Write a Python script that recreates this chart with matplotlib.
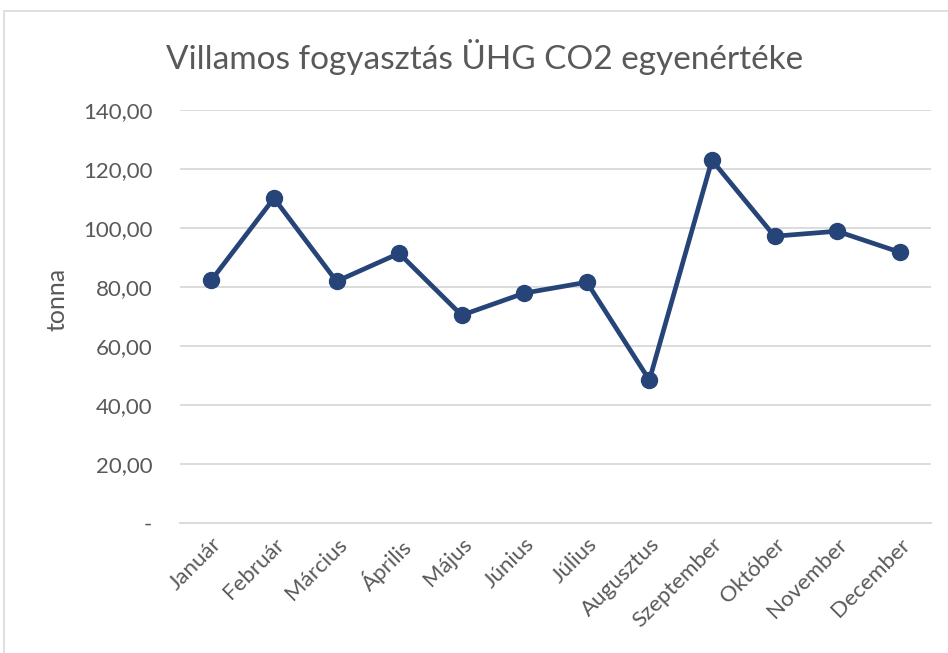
import matplotlib.pyplot as plt
from matplotlib.patches import Rectangle

plt.rcParams['font.family'] = ['Lato', 'DejaVu Sans']

months = ['Január', 'Február', 'Március', 'Április', 'Május', 'Június',
          'Július', 'Augusztus', 'Szeptember', 'Október', 'November', 'December']
values = [82.4, 110.2, 82.0, 91.5, 70.5, 78.0, 81.7, 48.5, 123.1, 97.3, 99.0, 91.9]
yticks = [0, 20, 40, 60, 80, 100, 120, 140]
ytick_labels = ['-' if v == 0 else f'{v:.2f}'.replace('.', ',') for v in yticks]

text_color = '#595959'
line_color = '#264478'
grid_color = '#d9d9d9'

fig = plt.figure(figsize=(9.48, 6.53), dpi=100)
ax = fig.add_axes([0.190, 0.199, 0.792, 0.632])

x = range(len(months))
ax.plot(x, values, color=line_color, linewidth=3.4, marker='o',
        markersize=11.5, solid_capstyle='round', solid_joinstyle='round')

ax.set_xlim(-0.5, len(months) - 0.5)
ax.set_ylim(0, 140)
ax.set_yticks(yticks)
ax.set_yticklabels(ytick_labels)
ax.set_xticks(list(x))
ax.set_xticklabels(months, rotation=45, ha='right', rotation_mode='anchor')

ax.grid(axis='y', color=grid_color, linewidth=1.3)
ax.set_axisbelow(True)
for s in ['top', 'right', 'left']:
    ax.spines[s].set_visible(False)
ax.spines['bottom'].set_color(grid_color)
ax.spines['bottom'].set_linewidth(1.3)
ax.tick_params(axis='both', length=0, labelsize=16, colors=text_color)
ax.tick_params(axis='y', pad=20)
ax.tick_params(axis='x', pad=8)

ax.set_ylabel('tonna', fontsize=18, color=text_color)
ax.yaxis.set_label_coords(-0.148, 0.542)
fig.text(0.511, 0.912, 'Villamos fogyasztás ÜHG CO2 egyenértéke',
         fontsize=24, color=text_color, ha='center', va='center')

# chart area border
fig.patches.append(Rectangle((4 / 948, -0.1), 1.1, (653 - 11) / 653 + 0.1,
                             transform=fig.transFigure, fill=False,
                             edgecolor=grid_color, linewidth=1.2))

plt.savefig('out.png', dpi=100)
